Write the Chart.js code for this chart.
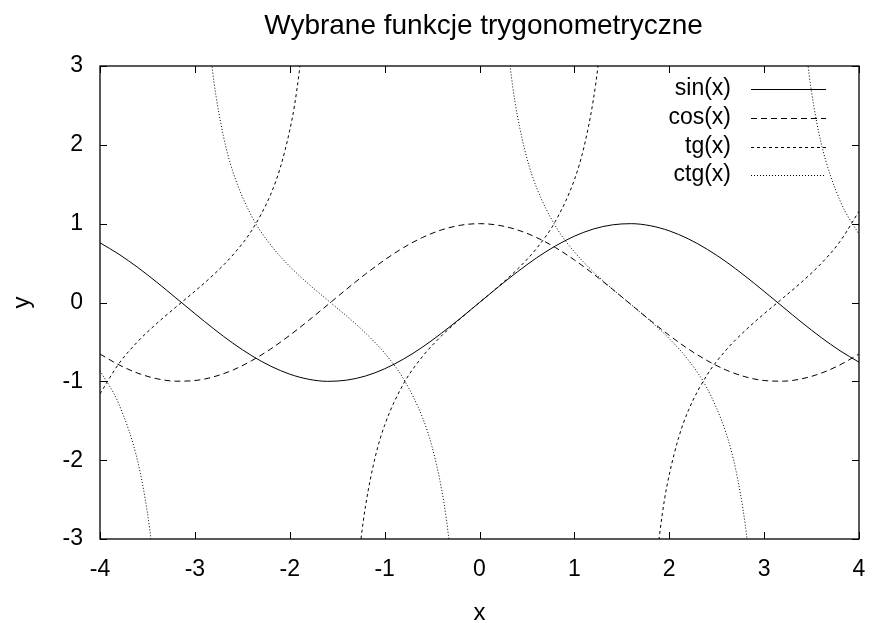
<!DOCTYPE html>
<html>
<head>
<meta charset="utf-8">
<script src="https://cdn.jsdelivr.net/npm/chart.js@4"></script>
<style>
  html, body { margin: 0; padding: 0; background: #fff; }
  #wrap { width: 876px; height: 623px; }
</style>
</head>
<body>
<div id="wrap"><canvas id="trigChart" width="876" height="623"></canvas></div>
<script>
// values
const titleText = 'Wybrane funkcje trygonometryczne';
const seriesNames = ['sin(x)', 'cos(x)', 'tg(x)', 'ctg(x)'];
const xTicks = [-4, -3, -2, -1, 0, 1, 2, 3, 4];
const yTicks = [-3, -2, -1, 0, 1, 2, 3];

const xs = [-4.0, -3.8, -3.6, -3.4, -3.2, -3.0, -2.8, -2.6, -2.4, -2.2, -2.0,
            -1.8, -1.6, -1.4, -1.2, -1.0, -0.8, -0.6, -0.4, -0.2, 0.0,
            0.2, 0.4, 0.6, 0.8, 1.0, 1.2, 1.4, 1.6, 1.8, 2.0,
            2.2, 2.4, 2.6, 2.8, 3.0, 3.2, 3.4, 3.6, 3.8, 4.0];
const sinY = [0.757, 0.612, 0.443, 0.256, 0.058, -0.141, -0.335, -0.516, -0.675, -0.808, -0.909,
              -0.974, -1.000, -0.985, -0.932, -0.841, -0.717, -0.565, -0.389, -0.199, 0.000,
              0.199, 0.389, 0.565, 0.717, 0.841, 0.932, 0.985, 1.000, 0.974, 0.909,
              0.808, 0.675, 0.516, 0.335, 0.141, -0.058, -0.256, -0.443, -0.612, -0.757];
const cosY = [-0.654, -0.791, -0.897, -0.967, -0.998, -0.990, -0.942, -0.857, -0.737, -0.589, -0.416,
              -0.227, -0.029, 0.170, 0.362, 0.540, 0.697, 0.825, 0.921, 0.980, 1.000,
              0.980, 0.921, 0.825, 0.697, 0.540, 0.362, 0.170, -0.029, -0.227, -0.416,
              -0.589, -0.737, -0.857, -0.942, -0.990, -0.998, -0.967, -0.897, -0.791, -0.654];

// tg and ctg have their own x samples (denser near the steep parts), null = break
const tgX = [-4.0, -3.8, -3.6, -3.4, -3.2, -3.0, -2.8, -2.6, -2.4, -2.2, -2.1, -2.0, -1.95, -1.9, -1.85, -1.7,
             -1.3, -1.25, -1.2, -1.1, -1.0, -0.8, -0.6, -0.4, -0.2, 0.0, 0.2, 0.4, 0.6, 0.8, 1.0, 1.1, 1.2, 1.25, 1.3,
             1.7, 1.85, 1.9, 1.95, 2.0, 2.1, 2.2, 2.4, 2.6, 2.8, 3.0, 3.2, 3.4, 3.6, 3.8, 4.0];
const tgY = [-1.158, -0.774, -0.493, -0.264, -0.058, 0.143, 0.356, 0.602, 0.916, 1.374, 1.710, 2.185, 2.498, 2.927, 3.467, null,
             -3.602, -3.010, -2.572, -1.965, -1.557, -1.030, -0.684, -0.423, -0.203, 0.000, 0.203, 0.423, 0.684, 1.030, 1.557, 1.965, 2.572, 3.010, 3.602,
             null, -3.467, -2.927, -2.498, -2.185, -1.710, -1.374, -0.916, -0.602, -0.356, -0.143, 0.058, 0.264, 0.493, 0.774, 1.158];

const ctgX = [-4.0, -3.8, -3.6, -3.5, -3.45, -3.4, -3.14,
              -2.85, -2.8, -2.7, -2.6, -2.4, -2.2, -2.0, -1.8, -1.6, -1.4, -1.2, -1.0, -0.8, -0.6, -0.5, -0.4, -0.35, -0.3, 0.0,
              0.3, 0.35, 0.4, 0.5, 0.6, 0.8, 1.0, 1.2, 1.4, 1.6, 1.8, 2.0, 2.2, 2.4, 2.6, 2.7, 2.8, 2.85, 3.14,
              3.4, 3.45, 3.5, 3.6, 3.8, 4.0];
const ctgY = [-0.864, -1.292, -2.028, -2.670, -3.139, -3.788, null,
              3.333, 2.808, 2.115, 1.662, 1.092, 0.728, 0.458, 0.233, 0.029, -0.172, -0.389, -0.642, -0.971, -1.462, -1.830, -2.365, -2.740, -3.233, null,
              3.233, 2.740, 2.365, 1.830, 1.462, 0.971, 0.642, 0.389, 0.172, -0.029, -0.233, -0.458, -0.728, -1.092, -1.662, -2.115, -2.808, -3.333, null,
              3.788, 3.139, 2.670, 2.028, 1.292, 0.864];

const dashes = [[], [6, 4], [3, 3], [1, 2]];
const FONT = 'Liberation Sans, Arial, sans-serif';

function pts(xArr, yArr) {
    return xArr.map((x, i) => ({ x: x, y: yArr[i] }));
}

// frame, inward ticks, title and key drawn like gnuplot does
const gnuplotLook = {
    id: 'gnuplotLook',
    afterDatasetsDraw(chart) {
        const ctx = chart.ctx;
        const a = chart.chartArea;
        const sx = chart.scales.x, sy = chart.scales.y;
        const tl = 7;
        ctx.save();
        ctx.strokeStyle = '#000';
        ctx.lineWidth = 1;
        ctx.setLineDash([]);
        ctx.beginPath();
        xTicks.forEach(v => {
            const px = Math.round(sx.getPixelForValue(v)) + 0.5;
            ctx.moveTo(px, a.bottom); ctx.lineTo(px, a.bottom - tl);
            ctx.moveTo(px, a.top); ctx.lineTo(px, a.top + tl);
        });
        yTicks.forEach(v => {
            const py = Math.round(sy.getPixelForValue(v)) + 0.5;
            ctx.moveTo(a.left, py); ctx.lineTo(a.left + tl, py);
            ctx.moveTo(a.right, py); ctx.lineTo(a.right - tl, py);
        });
        ctx.stroke();
        ctx.lineWidth = 1.3;
        ctx.strokeRect(a.left, a.top, a.right - a.left, a.bottom - a.top);

        // title
        ctx.fillStyle = '#000';
        ctx.font = '28px ' + FONT;
        ctx.textAlign = 'center';
        ctx.textBaseline = 'alphabetic';
        ctx.fillText(titleText, (a.left + a.right) / 2 + 4, 34);

        // key
        ctx.font = '23px ' + FONT;
        ctx.textAlign = 'right';
        ctx.textBaseline = 'middle';
        const rows = [89, 118, 147, 175];
        seriesNames.forEach((name, i) => {
            const y = a.top + rows[i] - 66;
            ctx.fillText(name, a.right - 128, y);
            ctx.setLineDash(dashes[i]);
            ctx.lineWidth = 1;
            ctx.beginPath();
            ctx.moveTo(a.right - 108, y + 0.5);
            ctx.lineTo(a.right - 33, y + 0.5);
            ctx.stroke();
        });
        ctx.restore();
    }
};

const lineStyle = {
    borderColor: '#000',
    borderWidth: 1,
    pointRadius: 0,
    fill: false,
    spanGaps: false,
    cubicInterpolationMode: 'monotone'
};

new Chart(document.getElementById('trigChart').getContext('2d'), {
    type: 'line',
    data: {
        datasets: [
            Object.assign({ label: seriesNames[0], data: pts(xs, sinY), borderDash: dashes[0] }, lineStyle),
            Object.assign({ label: seriesNames[1], data: pts(xs, cosY), borderDash: dashes[1] }, lineStyle),
            Object.assign({ label: seriesNames[2], data: pts(tgX, tgY), borderDash: dashes[2] }, lineStyle),
            Object.assign({ label: seriesNames[3], data: pts(ctgX, ctgY), borderDash: dashes[3] }, lineStyle)
        ]
    },
    options: {
        responsive: false,
        animation: false,
        layout: {
            padding: { top: 66, right: 17, left: 0, bottom: 0 }
        },
        plugins: {
            legend: { display: false },
            title: { display: false },
            tooltip: { enabled: false }
        },
        scales: {
            x: {
                type: 'linear',
                min: -4,
                max: 4,
                afterFit: s => { s.height = 84; s.paddingLeft = 0; s.paddingRight = 0; },
                afterBuildTicks: s => { s.ticks = xTicks.map(v => ({ value: v })); },
                grid: { display: false, drawTicks: false },
                border: { display: false },
                ticks: { color: '#000', font: { family: FONT, size: 23 }, padding: 17, maxRotation: 0 },
                title: { display: true, text: 'x', color: '#000', font: { family: FONT, size: 24 }, padding: { top: 0, bottom: -5 } }
            },
            y: {
                type: 'linear',
                min: -3,
                max: 3,
                afterFit: s => { s.width = 100; s.paddingTop = 0; s.paddingBottom = 0; },
                afterBuildTicks: s => { s.ticks = yTicks.map(v => ({ value: v })); },
                grid: { display: false, drawTicks: false },
                border: { display: false },
                ticks: { color: '#000', font: { family: FONT, size: 23 }, padding: 17 },
                title: { display: true, text: 'y', color: '#000', font: { family: FONT, size: 24 }, padding: { top: 8, bottom: 0 } }
            }
        }
    },
    plugins: [gnuplotLook]
});
</script>
</body>
</html>
